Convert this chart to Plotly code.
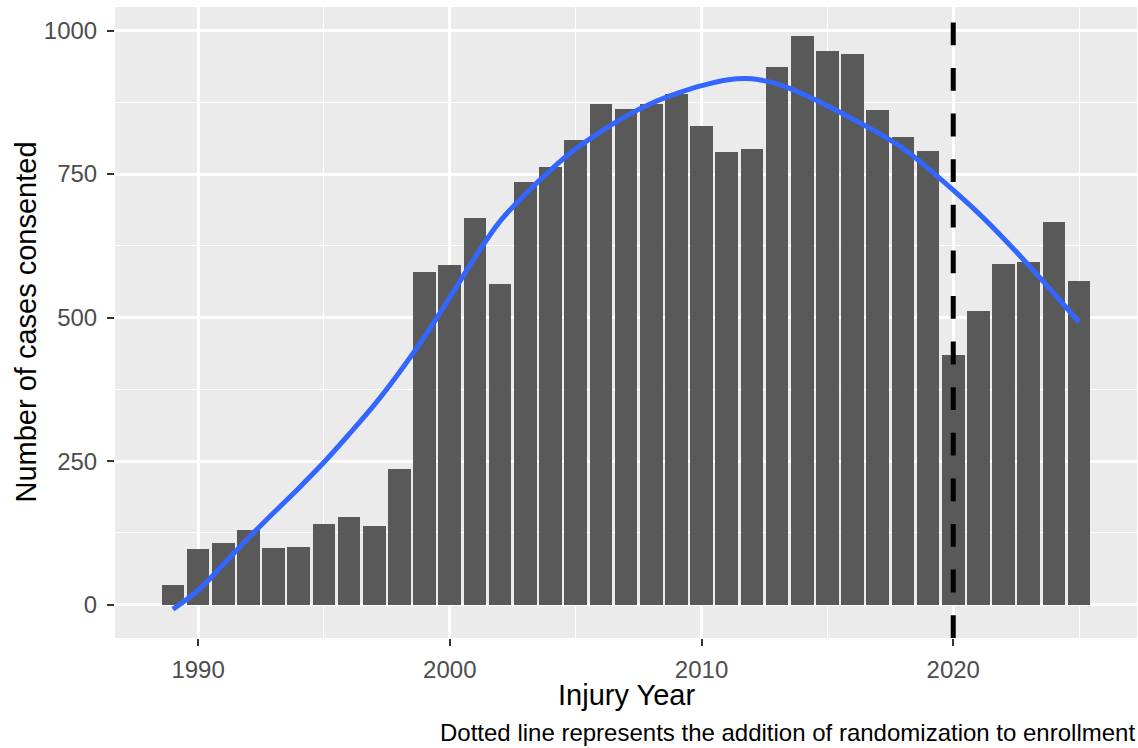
import plotly.graph_objects as go

years = list(range(1989, 2026))
cases = [34, 97, 107, 130, 98, 100, 140, 152, 137, 236,
         579, 591, 673, 558, 736, 762, 809, 872, 863, 872,
         890, 834, 788, 793, 936, 990, 964, 959, 862, 815,
         790, 435, 511, 593, 597, 666, 563]
smooth = [-8, 25, 70, 116, 160, 203, 248, 297, 348, 405,
          467, 535, 605, 668, 715, 757, 794, 824, 851, 873,
          890, 904, 914, 916, 907, 890, 869, 846, 822, 795,
          760, 722, 682, 638, 591, 542, 492]
vline_year = 2020
x_ticks = [1990, 2000, 2010, 2020]
y_ticks = [0, 250, 500, 750, 1000]
x_title = "Injury Year"
y_title = "Number of cases consented"
caption = "Dotted line represents the addition of randomization to enrollment"

FONT = "Liberation Sans, Arial, Helvetica, sans-serif"

fig = go.Figure()
fig.add_trace(go.Bar(x=years, y=cases, width=0.9, marker=dict(color="#595959", line=dict(width=0)),
                     showlegend=False, hoverinfo="x+y"))
fig.add_trace(go.Scatter(x=years, y=smooth, mode="lines", line=dict(color="#3366FF", width=5, shape="spline"),
                         showlegend=False))

fig.add_shape(type="line", xref="x", yref="paper", x0=vline_year, x1=vline_year, y0=0, y1=1,
              line=dict(color="black", width=5, dash="22.8px,22.8px"))

fig.update_layout(
    width=1138, height=748,
    margin=dict(l=115, r=1, t=7, b=110),
    paper_bgcolor="white", plot_bgcolor="#EBEBEB",
    font=dict(family=FONT, color="black"),
    bargap=0,
    annotations=[
        dict(text=x_title, xref="paper", yref="paper", x=0.5, y=-0.0903, xanchor="center", yanchor="middle",
             showarrow=False, font=dict(size=29, color="black", family=FONT)),
        dict(text=y_title, xref="paper", yref="paper", x=-0.088, y=0.5, xanchor="center", yanchor="middle",
             textangle=-90, showarrow=False, font=dict(size=29, color="black", family=FONT)),
        dict(text=caption, xref="paper", yref="paper", x=1.0, y=-0.1743, xanchor="right", yanchor="bottom",
             showarrow=False, font=dict(size=24, color="black", family=FONT)),
    ],
)
fig.update_xaxes(range=[1986.7, 2027.3], tickvals=x_ticks, ticks="outside", ticklen=7, tickwidth=2,
                 tickcolor="#333333", tickfont=dict(size=24, color="#4D4D4D", family=FONT),
                 showgrid=True, gridcolor="white", gridwidth=2.5, zeroline=False, showline=False,
                 ticklabelstandoff=3,
                 minor=dict(dtick=5, tick0=1985, showgrid=True, gridcolor="white", gridwidth=1.3))
fig.update_yaxes(range=[-58, 1041], tickvals=y_ticks, ticks="outside", ticklen=7, tickwidth=2,
                 tickcolor="#333333", tickfont=dict(size=24, color="#4D4D4D", family=FONT),
                 showgrid=True, gridcolor="white", gridwidth=2.5, zeroline=False, showline=False,
                 ticklabelstandoff=5,
                 minor=dict(dtick=125, tick0=0, showgrid=True, gridcolor="white", gridwidth=1.3))

fig.write_html("out.html")
